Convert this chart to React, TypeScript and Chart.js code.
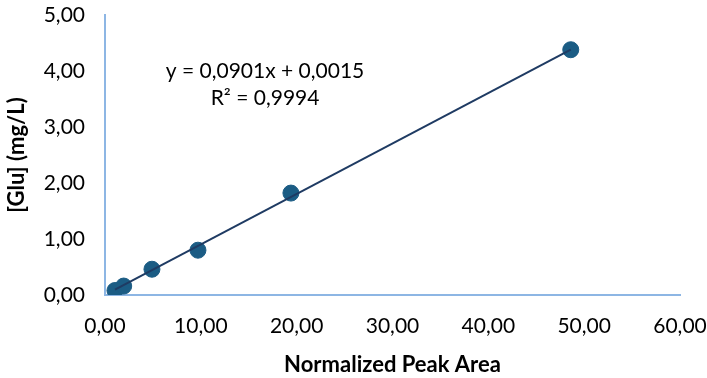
import React, { useEffect, useRef } from "react";
import { Chart, registerables } from "chart.js";
Chart.register(...registerables);

const peakArea = [1.04, 1.95, 4.9, 9.7, 19.4, 48.6];
const glucose = [0.08, 0.16, 0.46, 0.80, 1.82, 4.38];
const trendX = [1.04, 48.6];
const trendY = [0.095, 4.38];
const equationLines = ["y = 0,0901x + 0,0015", "R² = 0,9994"];
const xTitle = "Normalized Peak Area";
const yTitle = "[Glu] (mg/L)";

const FONT = "Lato, 'Open Sans', sans-serif";
const fmt = (v: number) => v.toFixed(2).replace(".", ",");

const annotationPlugin = {
  id: "eqText",
  afterDraw(chart: any) {
    const ctx = chart.ctx;
    ctx.save();
    ctx.fillStyle = "#000";
    ctx.font = `21px ${FONT}`;
    ctx.textAlign = "center";
    ctx.textBaseline = "middle";
    const xs = chart.scales.x;
    const ys = chart.scales.y;
    const cx = xs.getPixelForValue(16.7);
    ctx.fillText(equationLines[0], cx, ys.getPixelForValue(4.0));
    ctx.fillText(equationLines[1], cx, ys.getPixelForValue(3.52));
    ctx.restore();
  },
};

export default function App() {
  const ref = useRef<HTMLCanvasElement>(null);
  useEffect(() => {
    document.body.style.margin = "0";
    const chart = new Chart(ref.current!, {
      type: "scatter",
      data: {
        datasets: [
          {
            type: "line",
            data: trendX.map((x, i) => ({ x, y: trendY[i] })),
            borderColor: "#1F3B63",
            borderWidth: 2,
            pointRadius: 0,
            fill: false,
            order: 1,
          } as any,
          {
            data: peakArea.map((x, i) => ({ x, y: glucose[i] })),
            backgroundColor: "#1B5C84",
            borderColor: "#1B5C84",
            pointRadius: 8,
            order: 2,
          },
        ],
      },
      options: {
        animation: false,
        responsive: false,
        maintainAspectRatio: false,
        layout: { padding: { top: 15, right: 27, left: 0, bottom: 0 } },
        plugins: { legend: { display: false }, tooltip: { enabled: false } },
        scales: {
          x: {
            type: "linear",
            min: 0,
            max: 60,
            ticks: {
              stepSize: 10,
              color: "#000",
              font: { family: FONT, size: 21 },
              padding: 19,
              callback: (v: any) => fmt(Number(v)),
            },
            grid: { display: false, drawTicks: false },
            border: { display: true, color: "#8DB6E4", width: 2 },
            title: {
              display: true,
              text: xTitle,
              color: "#000",
              font: { family: FONT, size: 22, weight: "bold" },
              padding: { top: 4, bottom: 0 },
            },
            afterFit: (s: any) => {
              s.height = 378 - 295;
              s.paddingLeft = 0;
              s.paddingRight = 0;
            },
          },
          y: {
            type: "linear",
            min: 0,
            max: 5,
            ticks: {
              stepSize: 1,
              color: "#000",
              font: { family: FONT, size: 21 },
              padding: 20,
              callback: (v: any) => fmt(Number(v)),
            },
            grid: { display: false, drawTicks: false },
            border: { display: true, color: "#8DB6E4", width: 2 },
            title: {
              display: true,
              text: yTitle,
              color: "#000",
              font: { family: FONT, size: 22, weight: "bold" },
              padding: { top: 4, bottom: 0 },
            },
            afterFit: (s: any) => {
              s.width = 105;
              s.paddingTop = 0;
              s.paddingBottom = 0;
            },
          },
        },
      },
      plugins: [annotationPlugin],
    });
    return () => chart.destroy();
  }, []);
  return (
    <div style={{ width: 707, height: 378, background: "#fff" }}>
      <canvas ref={ref} width={707} height={378} />
    </div>
  );
}
